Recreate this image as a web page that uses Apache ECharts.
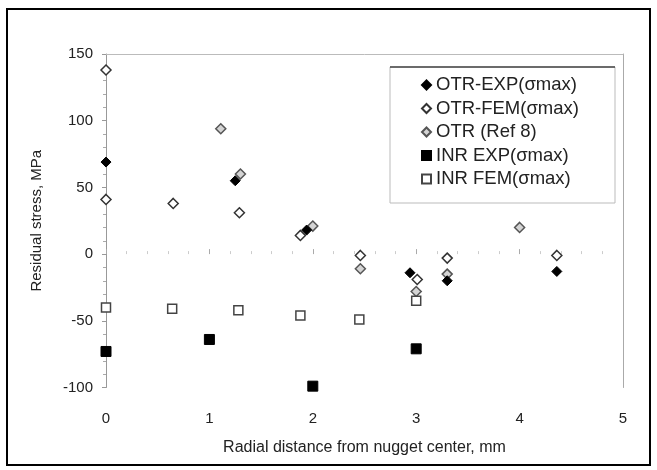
<!DOCTYPE html>
<html>
<head>
<meta charset="utf-8">
<script src="https://cdn.jsdelivr.net/npm/echarts@6/dist/echarts.min.js"></script>
<style>
html,body{margin:0;padding:0;background:#fff;}
#chart{width:657px;height:470px;}
</style>
</head>
<body>
<div id="chart"></div>
<script>
// ---- data ----
var seriesNames = ['OTR-EXP(σmax)', 'OTR-FEM(σmax)', 'OTR (Ref 8)', 'INR EXP(σmax)', 'INR FEM(σmax)'];
var otrExp = [[0, 69], [1.25, 55], [1.94, 18], [2.94, -14], [3.3, -20], [4.36, -13]];
var otrFem = [[0, 138], [0, 41], [0.65, 38], [1.29, 31], [1.88, 14], [2.46, -1], [3.01, -19], [3.3, -3], [4.36, -1]];
var otrRef8 = [[1.11, 94], [1.3, 60], [2.0, 21], [2.46, -11], [3.0, -28], [3.3, -15], [4.0, 20]];
var inrExp = [[0, -73], [1.0, -64], [2.0, -99], [3.0, -71]];
var inrFem = [[0, -40], [0.64, -41], [1.28, -42], [1.88, -46], [2.45, -49], [3.0, -35]];
var xTicks = [0, 1, 2, 3, 4, 5];
var yTicks = [-100, -50, 0, 50, 100, 150];

var FONT = '"Liberation Sans", Arial, sans-serif';
var chart = echarts.init(document.getElementById('chart'), null, {renderer: 'canvas'});

var option = {
  backgroundColor: '#fff',
  animation: false,
  grid: {left: 106, right: 34, top: 54, bottom: 82.5, containLabel: false},
  xAxis: [{
    type: 'value',
    min: xTicks[0], max: xTicks[xTicks.length - 1], interval: 1,
    name: 'Radial distance from nugget center, mm',
    nameLocation: 'middle', nameGap: 52,
    nameTextStyle: {fontFamily: FONT, fontSize: 16, color: '#222'},
    axisLine: {show: false},
    axisTick: {show: true, inside: true, length: 5, lineStyle: {color: '#aaa'}},
    minorTick: {show: true, splitNumber: 5, length: 3, lineStyle: {color: '#ccc'}},
    splitLine: {show: false},
    axisLabel: {margin: 24, fontFamily: FONT, fontSize: 15, color: '#222'}
  }, {
    type: 'value', position: 'top',
    min: xTicks[0], max: xTicks[xTicks.length - 1], interval: 1,
    axisLine: {show: true, onZero: false, lineStyle: {color: '#bbb', width: 1}},
    axisTick: {show: false}, axisLabel: {show: false}, splitLine: {show: false}
  }],
  yAxis: [{
    type: 'value',
    min: yTicks[0], max: yTicks[yTicks.length - 1], interval: 50,
    name: 'Residual stress, MPa',
    nameLocation: 'middle', nameGap: 62, nameRotate: 90,
    nameTextStyle: {fontFamily: FONT, fontSize: 15, color: '#222'},
    axisLine: {show: true, onZero: false, lineStyle: {color: '#999', width: 1}},
    axisTick: {show: true, length: 4, lineStyle: {color: '#999'}},
    minorTick: {show: true, splitNumber: 5, length: 3, lineStyle: {color: '#aaa'}},
    splitLine: {show: false},
    axisLabel: {margin: 13, fontFamily: FONT, fontSize: 15, color: '#222'}
  }, {
    type: 'value', position: 'right',
    min: yTicks[0], max: yTicks[yTicks.length - 1], interval: 50,
    axisLine: {show: true, onZero: false, lineStyle: {color: '#aaa', width: 1}},
    axisTick: {show: false}, axisLabel: {show: false}, splitLine: {show: false}
  }],
  legend: {
    orient: 'vertical',
    left: 416, top: 70,
    itemWidth: 9, itemHeight: 9, itemGap: 3.5,
    textStyle: {fontFamily: FONT, fontSize: 18.5, color: '#222', lineHeight: 20},
    data: seriesNames
  },
  graphic: [
    {type: 'rect', shape: {x: 390, y: 67, width: 225, height: 136},
     style: {fill: 'none', stroke: '#bbb', lineWidth: 1}, z: 5},
    {type: 'line', shape: {x1: 390, y1: 67, x2: 615, y2: 67},
     style: {stroke: '#444', lineWidth: 1.5}, z: 6},
    {type: 'rect', shape: {x: 7, y: 9, width: 643, height: 456},
     style: {fill: 'none', stroke: '#000', lineWidth: 2}, z: 10}
  ],
  series: [
    {name: seriesNames[0], type: 'scatter', data: otrExp, symbol: 'diamond', symbolSize: 10,
     itemStyle: {color: '#000', borderColor: '#000', borderWidth: 1, opacity: 1}, z: 4},
    {name: seriesNames[1], type: 'scatter', data: otrFem, symbol: 'diamond', symbolSize: 10,
     itemStyle: {color: '#fff', borderColor: '#333', borderWidth: 1.5, opacity: 1}, z: 3},
    {name: seriesNames[2], type: 'scatter', data: otrRef8, symbol: 'diamond', symbolSize: 10,
     itemStyle: {color: '#d4d4d4', borderColor: '#555', borderWidth: 1.5, opacity: 1}, z: 3},
    {name: seriesNames[3], type: 'scatter', data: inrExp, symbol: 'rect', symbolSize: 10,
     itemStyle: {color: '#000', borderColor: '#000', borderWidth: 1, opacity: 1}, z: 4},
    {name: seriesNames[4], type: 'scatter', data: inrFem, symbol: 'rect', symbolSize: 9,
     itemStyle: {color: '#fff', borderColor: '#444', borderWidth: 1.5, opacity: 1}, z: 3}
  ]
};
chart.setOption(option);
</script>
</body>
</html>
